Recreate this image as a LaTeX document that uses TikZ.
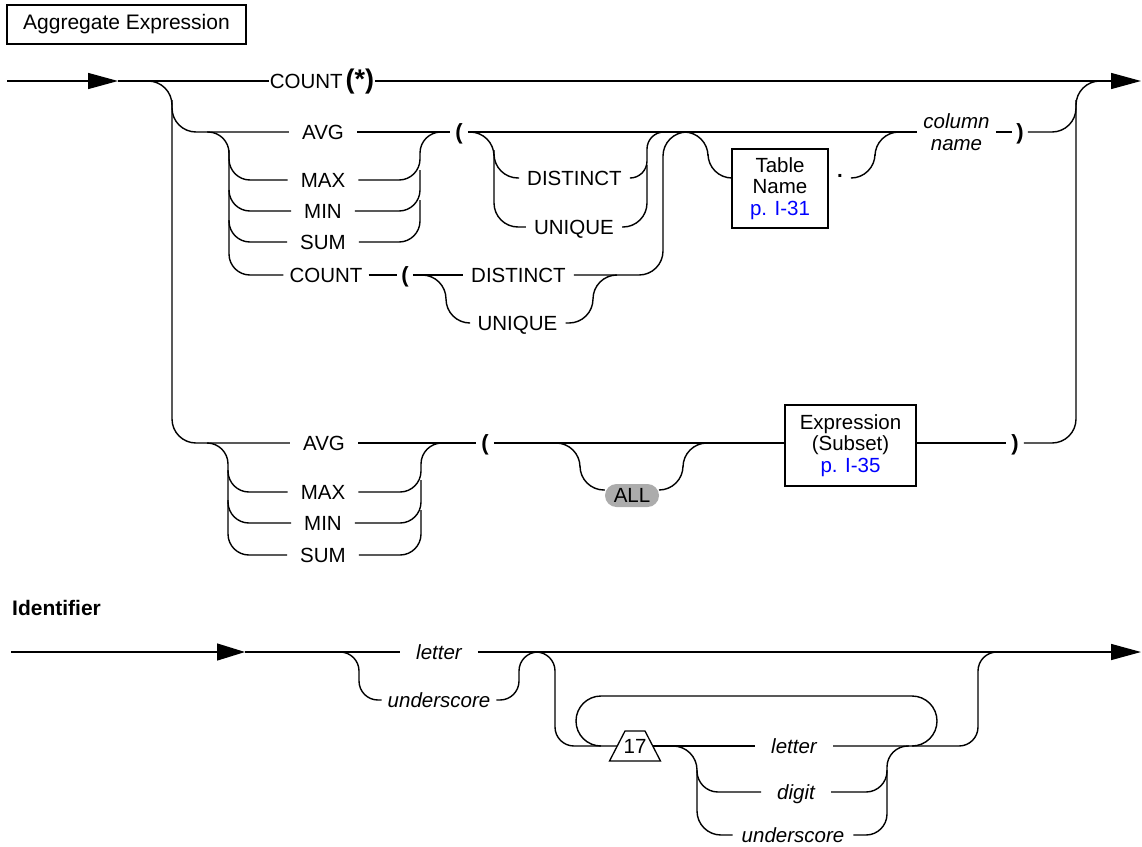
\documentclass[tikz,border=0pt]{standalone}
\usepackage{fontspec}
\setmainfont{Liberation Sans}
\usetikzlibrary{arrows.meta}
\definecolor{linkblue}{RGB}{0,0,255}
\definecolor{optgray}{RGB}{172,172,172}
\newcommand{\railfont}{\fontsize{20.5}{21.5}\selectfont}
\begin{document}
\begin{tikzpicture}[x=1pt,y=-1pt,
  rail/.style={line width=1.4pt},
  rc/.style={rail, rounded corners=24pt},
  rcm/.style={rail, rounded corners=21pt},
  rcs/.style={rail, rounded corners=17pt},
  rci/.style={rail, rounded corners=19pt},
  lbl/.style={font=\railfont, inner ysep=0pt, inner xsep=#1, text height=14.7pt, text depth=0pt},
  lbl/.default=8pt,
  ilbl/.style={lbl=#1, font=\railfont\itshape},
  ilbl/.default=8pt,
  paren/.style={lbl=#1, font=\fontsize{22}{22}\selectfont\bfseries},
  paren/.default=5pt,
  refbox/.style={draw, line width=2.6pt, font=\railfont, align=center, inner sep=0pt},
  entry/.style={rail, -{Triangle[length=30pt,width=16pt]}},
]
\useasboundingbox (0,0) rectangle (1142,846);

% ---------------- Aggregate Expression ----------------
\node[draw, line width=1.8pt, font=\fontsize{21}{25}\selectfont, minimum width=239pt,
      minimum height=39pt, inner sep=0pt] (title) at (126.5,24.5) {Aggregate Expression};

\coordinate (start1) at (7,81);
\coordinate (in1) at (118,81);
\coordinate (out1) at (1141,81);
\coordinate (rowTbl) at (0,178);
\coordinate (rowB) at (0,443);
\coordinate (rowAll) at (0,490);

\node[lbl=1pt] (countall) at (322,81) {COUNT\hspace{3pt}{\bfseries\fontsize{27}{27}\selectfont(*)}};
\draw[entry] (start1) -- (in1);
\draw[rail] (in1) -- (countall.west);
\draw[entry] (countall.east) -- (out1);

% labels of both function alternatives
\node[lbl=13pt] (avg1) at (323,132) {AVG};
\node[lbl=13pt] (max1) at (323,180) {MAX};
\node[lbl=13pt] (min1) at (323,211) {MIN};
\node[lbl=13pt] (sum1) at (323,242) {SUM};
\node[lbl=6pt]  (cnt1) at (326,275) {COUNT};
\node[paren=5pt] (lp1) at (459,132) {(};
\node[paren=4pt] (lp2) at (405,275) {(};

\node[lbl=13pt] (avg2) at (324,443) {AVG};
\node[lbl=13pt] (max2) at (323,492) {MAX};
\node[lbl=13pt] (min2) at (323,523) {MIN};
\node[lbl=13pt] (sum2) at (323,555) {SUM};

% main branch rail on the left
\draw[rc] (148,81) -- (172,81) -- (172,443) -- (avg2.west);
\draw[rc] (172,100) -- (172,132) -- (avg1.west);

% first alternative: function ( [DISTINCT|UNIQUE] [Table Name .] column name )
\draw[rcm] (207,132) -- (229,132) -- (229,275) -- (cnt1.west);
\draw[rcm] (229,150) -- (229,180) -- (max1.west);
\draw[rcm] (229,190) -- (229,211) -- (min1.west);
\draw[rcm] (229,220) -- (229,242) -- (sum1.west);
\draw[rail] (avg1.east) -- (lp1.west);
\draw[rcm] (max1.east) -- (420,180) -- (420,132) -- (441,132);
\draw[rcm] (min1.east) -- (420,211) -- (420,170);
\draw[rcm] (sum1.east) -- (420,242) -- (420,200);
\draw[rail] (cnt1.east) -- (lp2.west);

\node[lbl=8pt] (dis1) at (574.5,178) {DISTINCT};
\node[lbl=8pt] (uni1) at (574,227) {UNIQUE};
\draw[rc] (470,132) -- (494,132) -- (494,227) -- (uni1.west);
\draw[rc] (494,150) -- (494,178) -- (dis1.west);
\draw[rcs] (dis1.east) -- (647,178) -- (647,132) -- (664,132);
\draw[rc] (uni1.east) -- (647,227) -- (647,165);

\node[lbl=8pt] (dis2) at (518.5,275) {DISTINCT};
\node[lbl=8pt] (uni2) at (517.5,323) {UNIQUE};
\draw[rail] (lp2.east) -- (dis2.west);
\draw[rc] (420,275) -- (446,275) -- (446,323) -- (uni2.west);
\draw[rc] (uni2.east) -- (593,323) -- (593,275) -- (617,275);
\draw[rc] (dis2.east) -- (663,275) -- (663,132) -- (687,132);

\node[refbox, minimum width=96pt, minimum height=79pt] (tbl) at (780,188.5)
  {Table\\Name\\\textcolor{linkblue}{p. I-31}};
\node[font=\railfont\bfseries, inner xsep=9pt, inner ysep=0pt, anchor=base] (dot) at (840,177) {.};
\draw[rc] (685,132) -- (708,132) -- (708,178) -- (tbl.west |- rowTbl);
\draw[rc] (dot.east |- rowTbl) -- (875,178) -- (875,132) -- (899,132);

\node[font=\railfont\itshape, align=center, inner xsep=6pt, inner ysep=0pt] (col) at (956.5,132) {column\\name};
\node[paren=4pt] (rp1) at (1020,132) {)};
\draw[rail] (lp1.east) -- (col.west);
\draw[rail] (col.east) -- (rp1.west);
\draw[rc] (rp1.east) -- (1076,132) -- (1076,100);

% second alternative: function ( [ALL] Expression )
\draw[rcm] (207,443) -- (228,443) -- (228,555) -- (sum2.west);
\draw[rcm] (228,470) -- (228,492) -- (max2.west);
\draw[rcm] (228,500) -- (228,523) -- (min2.west);
\draw[rcm] (max2.east) -- (421,492) -- (421,443) -- (443,443);
\draw[rcm] (min2.east) -- (421,523) -- (421,480);
\draw[rcm] (sum2.east) -- (421,555) -- (421,510);

\node[paren=5pt] (lp3) at (485,443) {(};
\draw[rail] (avg2.east) -- (lp3.west);
\node[refbox, minimum width=131pt, minimum height=81pt] (expr) at (850.5,445.5)
  {Expression\\(Subset)\\\textcolor{linkblue}{p. I-35}};
\draw[rail] (lp3.east) -- (expr.west |- rowB);

\node[fill=optgray, rounded corners=11.5pt, minimum width=54pt, minimum height=23pt,
      inner sep=0pt, font=\railfont] (all) at (632,495.5) {ALL};
\draw[rc] (557,443) -- (580,443) -- (580,490) -- (all.west |- rowAll);
\draw[rc] (all.east |- rowAll) -- (683,490) -- (683,443) -- (707,443);

\node[paren=5pt] (rp2) at (1015,443) {)};
\draw[rail] (expr.east |- rowB) -- (rp2.west);
\draw[rc] (rp2.east) -- (1076,443) -- (1076,81) -- (1100,81);

% ---------------- Identifier ----------------
\node[font=\fontsize{21}{25}\selectfont\bfseries, anchor=west, inner sep=0pt] (idtitle) at (12,608) {Identifier};

\coordinate (start2) at (11,652);
\coordinate (in2) at (245,652);
\coordinate (out2) at (1141,652);
\node[ilbl=16pt] (let1) at (439,652) {letter};
\node[ilbl=6pt] (us1) at (439,700) {underscore};
\draw[rail, -{Triangle[length=28pt,width=17pt]}] (start2) -- (in2);
\draw[rail] (in2) -- (let1.west);
\draw[entry] (let1.east) -- (out2);
\draw[rci] (340,652) -- (359,652) -- (359,700) -- (us1.west);
\draw[rci] (us1.east) -- (519,700) -- (519,652) -- (538,652);

% repeat count marker: trapezoid around the text "17"
\node[font=\railfont, inner sep=0pt, minimum width=35.5pt, minimum height=30pt] (tri) at (635,746) {17};
\draw[line width=1.3pt, line join=miter] (tri.center) ++(-25.5,15) -- ++(15.5,-30) -- ++(20,0) -- ++(15.5,30) -- cycle;
\draw[rci] (536,652) -- (555,652) -- (555,746) -- (tri.west);
\draw[rail, rounded corners=25pt] (601,746) -- (576,746) -- (576,696) -- (937,696) -- (937,746) -- (912,746);

\node[ilbl=16pt] (let2) at (794,746) {letter};
\node[ilbl=16pt] (dig) at (796,792) {digit};
\node[ilbl=9pt] (us2) at (793,835) {underscore};
\draw[rail] (tri.east) -- (let2.west);
\draw[rci] (let2.east) -- (978,746) -- (978,652) -- (997,652);
\draw[rc] (668,746) -- (697,746) -- (697,835) -- (us2.west);
\draw[rcm] (697,770) -- (697,792) -- (dig.west);
\draw[rcm] (dig.east) -- (887,792) -- (887,746) -- (909,746);
\draw[rcm] (us2.east) -- (887,835) -- (887,770);
\end{tikzpicture}
\end{document}
